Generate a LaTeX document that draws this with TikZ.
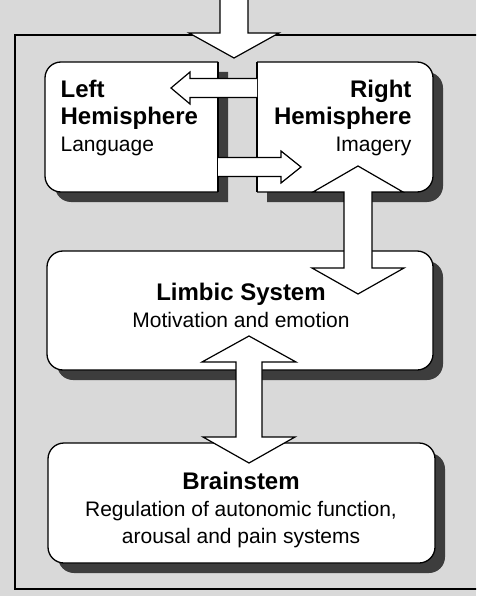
\documentclass[tikz,border=0pt]{standalone}
\usepackage{fontspec}
\setmainfont{Liberation Sans}
\usetikzlibrary{shadows}
\definecolor{paper}{gray}{0.85}
\definecolor{shadowgray}{gray}{0.24}
\newcommand{\boxtitle}[1]{{\bfseries\fontsize{24}{27}\selectfont #1}}
\tikzset{box node/.style={
	draw,
	fill=white,
	line width=1.3pt,
	rounded corners=16pt,
	inner sep=0pt,
	drop shadow={shadow xshift=10pt, shadow yshift=-10pt, fill=shadowgray, opacity=1},
}}

\begin{document}
\begin{tikzpicture}[
x=1pt, y=-1pt,
line width=1.2pt,
every node/.style={inner sep=0pt, font=\fontsize{21}{27}\selectfont},
]
% \draw [help lines] (0,0) grid (476,596);

\tikzset{
	hemi/.style={draw, fill=white, line width=1.3pt, rounded corners=16pt},
	hemi shadow/.style={fill=shadowgray, rounded corners=16pt},
	blockarrow/.style={fill=white, draw=black, line join=miter},
	blockfill/.style={fill=white},
}

\useasboundingbox (0,0) rectangle (476,596);
\clip (0,0) rectangle (476,596);
\fill[paper] (0,0) rectangle (476,596);
\draw (15,35) rectangle (490,589);

% hemispheres, with the gap between them
\begin{scope}
\clip (0,0) rectangle (228,596);
\path[hemi shadow] (55,72) rectangle (280,202);
\end{scope}
\begin{scope}
\clip (267,0) rectangle (476,596);
\path[hemi shadow] (225,72) rectangle (443,202);
\end{scope}
\begin{scope}
\clip (0,0) rectangle (218,596);
\path[hemi] (45,62) rectangle (270,192);
\end{scope}
\begin{scope}
\clip (257,0) rectangle (476,596);
\path[hemi] (205,62) rectangle (433,192);
\end{scope}
\draw[line width=1.3pt] (218,62) -- (218,192);
\draw[line width=1.3pt] (257,62) -- (257,192);

\node[box node, minimum width=386pt, minimum height=119pt] (limbic) at (240,310.5) {};
\node[box node, minimum width=387pt, minimum height=120pt] (brainstem) at (241.5,503) {};

% block arrows
\draw[blockarrow] (220,-5) -- (220,33) -- (189,33) -- (234,58) -- (279,33)
	-- (248,33) -- (248,-5) -- cycle;

\fill[blockfill] (257,78.5) -- (190,78.5) -- (190,72) -- (171,88) -- (190,104)
	-- (190,97.5) -- (257,97.5) -- cycle;
\draw[blockarrow, fill=none] (257,78.5) -- (190,78.5) -- (190,72) -- (171,88)
	-- (190,104) -- (190,97.5) -- (257,97.5);

\fill[blockfill] (218,157.5) -- (281,157.5) -- (281,151) -- (301,167) -- (281,183)
	-- (281,176.5) -- (218,176.5) -- cycle;
\draw[blockarrow, fill=none] (218,157.5) -- (281,157.5) -- (281,151) -- (301,167)
	-- (281,183) -- (281,176.5) -- (218,176.5);

\draw[blockarrow] (358,166) -- (403,192) -- (372,192) -- (372,268) -- (404,268)
	-- (358,294) -- (312,268) -- (344,268) -- (344,192) -- (313,192) -- cycle;

\draw[blockarrow] (249,336) -- (296,362) -- (262,362) -- (262,437) -- (295,437)
	-- (249,463) -- (203,437) -- (236,437) -- (236,362) -- (202,362) -- cycle;

% labels
\node[anchor=north west, align=left] (lefthemi) at (60,79.5)
	{\boxtitle{Left}\\\boxtitle{Hemisphere}\\Language};
\node[anchor=north east, align=right] (righthemi) at (412,79.5)
	{\boxtitle{Right}\\\boxtitle{Hemisphere}\\Imagery};
\node[anchor=north, align=center] (limbictext) at (241,282.5)
	{\boxtitle{Limbic System}\\Motivation and emotion};
\node[anchor=north, align=center] (brainstemtext) at (241,471.5)
	{\boxtitle{Brainstem}\\Regulation of autonomic function,\\arousal and pain systems};

\end{tikzpicture}
\end{document}
